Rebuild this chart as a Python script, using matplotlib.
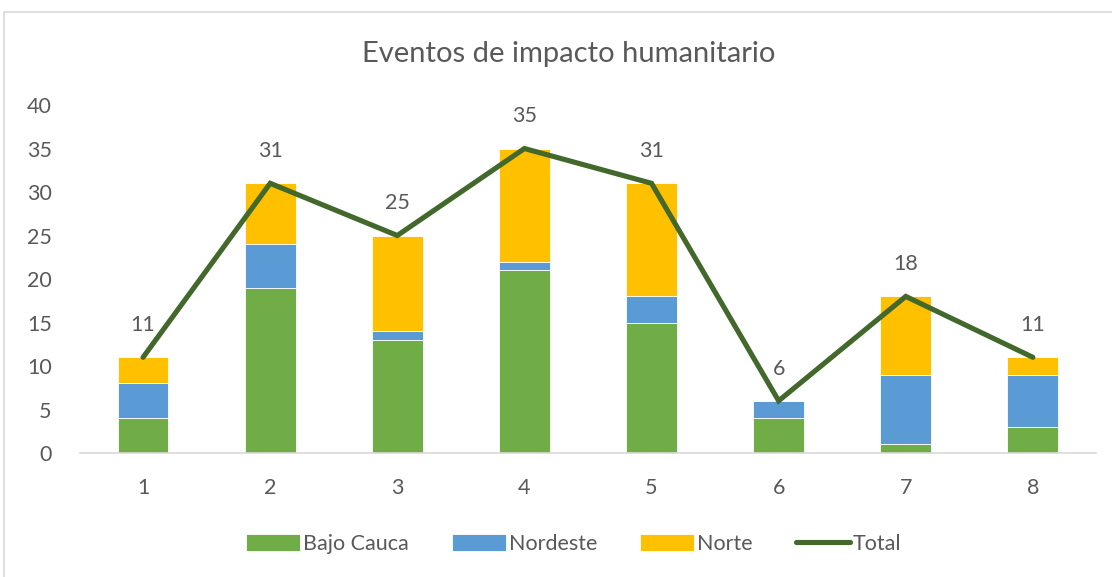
import matplotlib.pyplot as plt
import numpy as np
from matplotlib.patches import Rectangle

plt.rcParams["font.family"] = ["Lato", "DejaVu Sans"]

categories = ["1", "2", "3", "4", "5", "6", "7", "8"]
bajo_cauca = [4, 19, 13, 21, 15, 4, 1, 3]
nordeste = [4, 5, 1, 1, 3, 2, 8, 6]
norte = [3, 7, 11, 13, 13, 0, 9, 2]
total = [11, 31, 25, 35, 31, 6, 18, 11]

text_color = "#595959"
colors = {"Bajo Cauca": "#70AD47", "Nordeste": "#5B9BD5", "Norte": "#FFC000"}

fig = plt.figure(figsize=(11.12, 5.77), dpi=100)
ax = fig.add_axes([0.0715, 0.2149, 0.9145, 0.6031])

# chart border
fig.patches.append(Rectangle((4 / 1112, -0.01), 1.1, 1 - 12 / 577 + 0.01, transform=fig.transFigure,
                             fill=False, edgecolor="#D9D9D9", linewidth=1.2))

x = np.arange(len(categories))
w = 0.4
bottom = np.zeros(len(categories))
handles = []
for name, vals in [("Bajo Cauca", bajo_cauca), ("Nordeste", nordeste), ("Norte", norte)]:
    b = ax.bar(x, vals, w, bottom=bottom, color=colors[name], label=name,
               edgecolor="white", linewidth=0.6, zorder=2)
    handles.append(b)
    bottom += np.array(vals)

line, = ax.plot(x, total, color="#43682B", linewidth=3.7, label="Total", zorder=3,
                solid_capstyle="round", solid_joinstyle="miter")
handles.append(line)
for xi, t in zip(x, total):
    ax.annotate(str(t), (xi, t), xytext=(0, 16), textcoords="offset points",
                ha="center", va="bottom", fontsize=15.5, color=text_color)

ax.set_xlim(-0.5, len(categories) - 0.5)
ax.set_ylim(0, 40)
ax.set_yticks(range(0, 41, 5))
ax.set_xticks(x)
ax.set_xticklabels(categories)
ax.tick_params(length=0, labelsize=15.5, labelcolor=text_color)
ax.tick_params(axis="x", pad=18)
ax.tick_params(axis="y", pad=20)
for s in ["top", "right", "left"]:
    ax.spines[s].set_visible(False)
ax.spines["bottom"].set_color("#D9D9D9")
ax.spines["bottom"].set_linewidth(1.2)

fig.text(0.511, 0.907, "Eventos de impacto humanitario", ha="center", va="center",
         fontsize=21, color=text_color)

fig.legend(handles, [h.get_label() for h in handles], loc="center",
           bbox_to_anchor=(0.516, 0.057), ncol=4, frameon=False,
           fontsize=15.5, labelcolor=text_color, handlelength=2.5, handleheight=0.8,
           handletextpad=0.15, columnspacing=2.0)

fig.savefig("out.png", dpi=100)
